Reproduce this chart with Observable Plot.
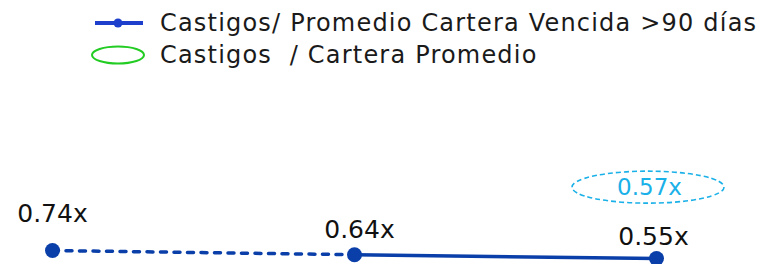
<!DOCTYPE html>
<html>
<head>
<meta charset="utf-8">
<script src="https://cdn.jsdelivr.net/npm/d3@7"></script>
<script src="https://cdn.jsdelivr.net/npm/@observablehq/plot@0.6"></script>
<style>
  body { margin: 0; background: #fff; font-family: "DejaVu Sans", sans-serif; }
  #legend { position: relative; height: 80px; width: 763px; }
  .row { position: absolute; left: 90px; display: flex; align-items: center; font-size: 24px; letter-spacing: 1.2px; color: #1a1a1a; white-space: nowrap; }
  .row svg { margin-right: 14px; }
</style>
</head>
<body>
<div id="legend">
  <div class="row" style="top:9px;">
    <svg width="56" height="28"><line x1="5" y1="14" x2="53" y2="14" stroke="#1d3fcc" stroke-width="4"/><circle cx="28" cy="14" r="4.5" fill="#1d3fcc"/></svg>
    <span id="l1"></span>
  </div>
  <div class="row" style="top:41px;">
    <svg width="56" height="28"><ellipse cx="28" cy="14" rx="26" ry="8.5" fill="none" stroke="#22cc22" stroke-width="2"/></svg>
    <span id="l2"></span>
  </div>
</div>
<div id="chart"></div>
<script>
const seriesNames = ["Castigos/ Promedio Cartera Vencida >90 días", "Castigos  / Cartera Promedio"];
const periods = ["P1", "P2", "P3"];
const ratioVencida = [0.74, 0.64, 0.55];
const ratioPromedioPeriods = ["P3"];
const ratioPromedio = [0.57];

document.getElementById("l1").textContent = seriesNames[0];
document.getElementById("l2").textContent = seriesNames[1].replace(/ /g, "\u00a0");

const main = periods.map((p, i) => ({period: p, value: ratioVencida[i]}));
const avg = ratioPromedioPeriods.map((p, i) => ({period: p, value: ratioPromedio[i]}));
const fmt = v => v.toFixed(2) + "x";

const blue = "#0a3ea8";
const light = "#1ab0e8";
const ellDy = -70;
// label offsets (px) relative to each point
const labelOffsets = [[0, -37], [5, -25], [-3, -22]];

const chart = Plot.plot({
  width: 763,
  height: 184,
  margin: 0,
  style: {fontFamily: "DejaVu Sans, sans-serif", background: "transparent"},
  x: {type: "point", domain: periods, range: [51, 656], padding: 0, axis: null},
  y: {domain: [0.55, 0.74], range: [178, 170], axis: null},
  marks: [
    Plot.line(main.slice(0, 2), {x: "period", y: "value", stroke: blue, strokeWidth: 3.5, strokeDasharray: "6,7.5", strokeLinecap: "round"}),
    Plot.line(main.slice(1), {x: "period", y: "value", stroke: blue, strokeWidth: 3.5}),
    Plot.dot(main, {x: "period", y: "value", r: 7.5, fill: blue}),
    ...main.map((d, i) => Plot.text([d], {x: "period", y: "value", text: d => fmt(d.value), dx: labelOffsets[i][0], dy: labelOffsets[i][1], fontSize: 25, fill: "#111", style: {letterSpacing: "1.6px"}})),
    Plot.dot(avg, {
      x: "period", y: "value",
      render(index, scales, values) {
        const g = d3.create("svg:g");
        for (const i of index) {
          g.append("ellipse")
            .attr("cx", values.x[i] - 8)
            .attr("cy", values.y[i] + ellDy)
            .attr("rx", 76).attr("ry", 16)
            .attr("fill", "none")
            .attr("stroke", light)
            .attr("stroke-width", 1.6)
            .attr("stroke-dasharray", "5,3");
        }
        return g.node();
      }
    }),
    Plot.text(avg, {x: "period", y: "value", text: d => fmt(d.value), dx: -7, dy: ellDy, fontSize: 23, fill: light, style: {letterSpacing: "1.8px"}})
  ]
});
document.getElementById("chart").appendChild(chart);
</script>
</body>
</html>
